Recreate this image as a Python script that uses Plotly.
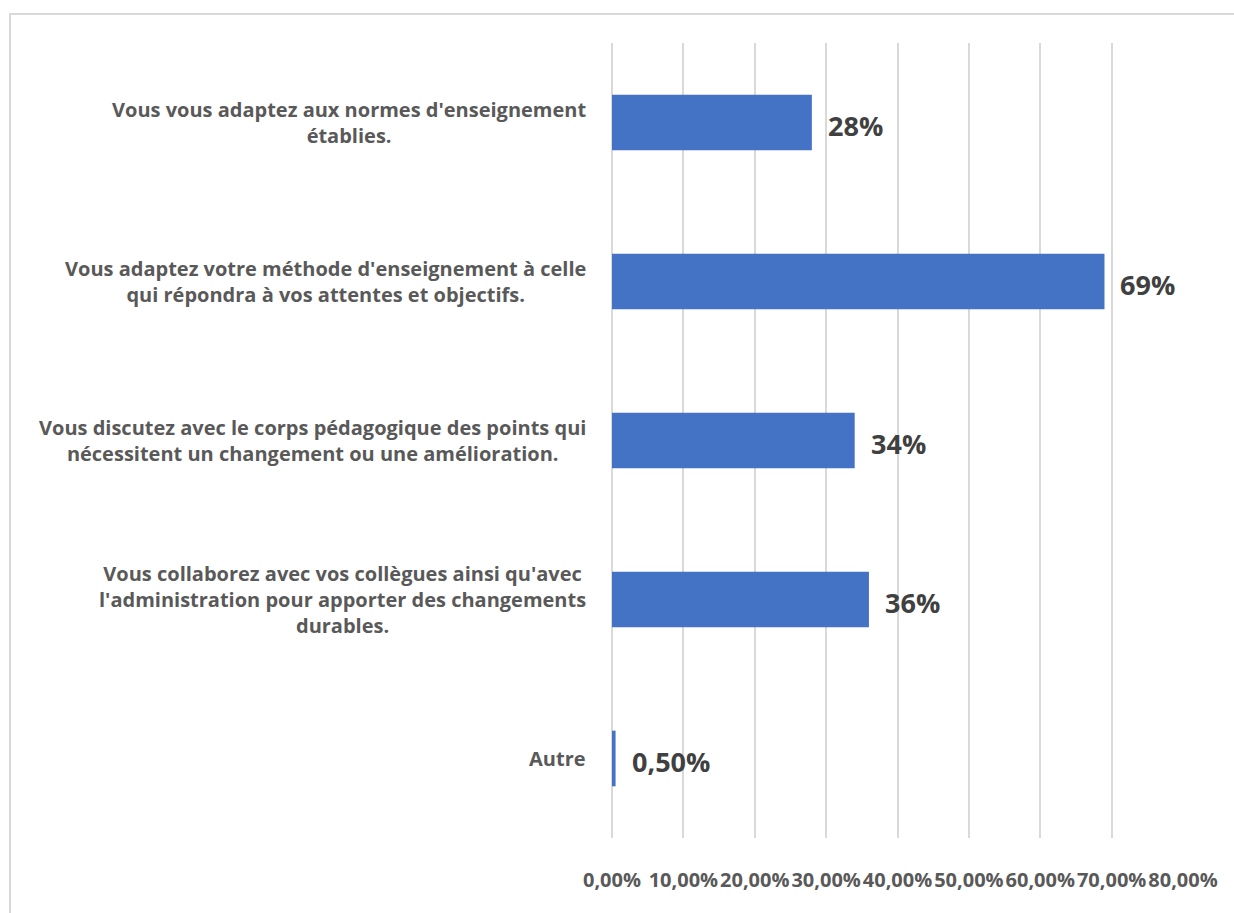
import plotly.graph_objects as go

# Survey answers (top to bottom) and the share of respondents for each
categories = [
    "Vous vous adaptez aux normes d'enseignement<br>établies.",
    "Vous adaptez votre méthode d'enseignement à celle<br>qui répondra à vos attentes et objectifs.",
    "Vous discutez avec le corps pédagogique des points qui<br>nécessitent un changement ou une amélioration.",
    "Vous collaborez avec vos collègues ainsi qu'avec<br>l'administration pour apporter des changements<br>durables.",
    "Autre",
]
values = [0.28, 0.69, 0.34, 0.36, 0.005]
value_labels = ["28%", "69%", "34%", "36%", "0,50%"]

tick_values = [0.0, 0.1, 0.2, 0.3, 0.4, 0.5, 0.6, 0.7, 0.8]
tick_labels = ["0,00%", "10,00%", "20,00%", "30,00%", "40,00%",
               "50,00%", "60,00%", "70,00%", "80,00%"]

FONT = "Open Sans"
BAR_COLOR = "#4472C4"
GRID_COLOR = "#D9D9D9"
LABEL_COLOR = "#595959"
VALUE_COLOR = "#404040"

W, H = 1234, 913
M_L, M_R, M_T, M_B = 612, 51, 43, 75
plot_w = W - M_L - M_R
plot_h = H - M_T - M_B

fig = go.Figure(
    go.Bar(
        x=values,
        y=list(range(len(categories))),
        orientation="h",
        marker=dict(color=BAR_COLOR, line=dict(width=0)),
        hoverinfo="skip",
    )
)

annotations = []
for i, (cat, v, lab) in enumerate(zip(categories, values, value_labels)):
    # category text, centred lines, right edge just left of the axis
    annotations.append(dict(
        x=0, xref="paper", y=i, yref="y",
        xanchor="right", yanchor="middle", xshift=-24,
        text=f"<b>{cat}</b>", showarrow=False, align="center",
        font=dict(family=FONT, size=20, color=LABEL_COLOR),
    ))
    # value label at the end of each bar
    annotations.append(dict(
        x=v, xref="x", y=i, yref="y",
        xanchor="left", yanchor="middle", xshift=14, yshift=-3,
        text=f"<b>{lab}</b>", showarrow=False,
        font=dict(family=FONT, size=27, color=VALUE_COLOR),
    ))

# light outer frame of the chart area
frame = dict(
    type="rect", xref="paper", yref="paper",
    x0=(10 - M_L) / plot_w, x1=(W + 10 - M_L) / plot_w,
    y0=-(M_B + 10) / plot_h, y1=1 + (M_T - 14) / plot_h,
    line=dict(color=GRID_COLOR, width=2), fillcolor="rgba(0,0,0,0)",
    layer="below",
)

fig.update_layout(
    width=W, height=H,
    margin=dict(l=M_L, r=M_R, t=M_T, b=M_B, pad=0, autoexpand=False),
    paper_bgcolor="white", plot_bgcolor="white",
    bargap=0.65,
    showlegend=False,
    annotations=annotations,
    shapes=[frame],
    xaxis=dict(
        range=[0, 0.8],
        tickmode="array", tickvals=tick_values, ticktext=tick_labels,
        tickangle=0, automargin=False,
        showgrid=True, gridcolor=GRID_COLOR, gridwidth=1.5,
        zeroline=True, zerolinecolor=GRID_COLOR, zerolinewidth=1.5,
        showline=False, ticks="",
        ticklabelstandoff=28,
        tickfont=dict(family=FONT, size=20, color=LABEL_COLOR, weight="bold"),
        fixedrange=True,
    ),
    yaxis=dict(
        range=[len(categories) - 0.5, -0.5],
        showticklabels=False, showgrid=False, zeroline=False,
        showline=False, ticks="", fixedrange=True, automargin=False,
    ),
)

fig.write_html("out.html", config={"displayModeBar": False})
